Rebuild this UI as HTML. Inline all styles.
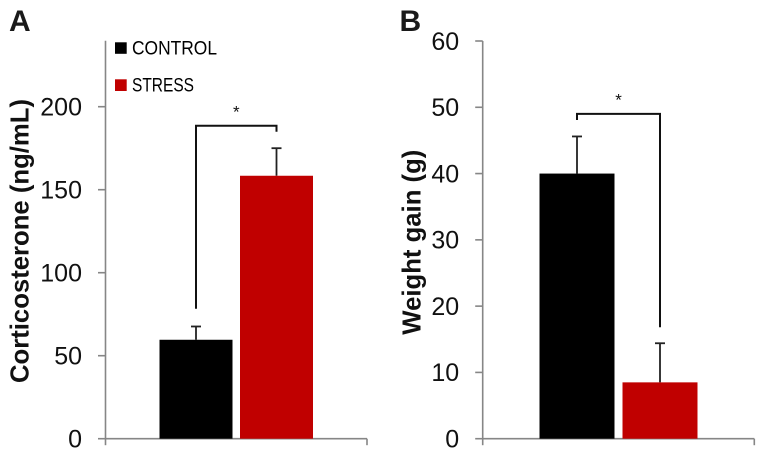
<!DOCTYPE html>
<html lang="en">
<head>
<meta charset="utf-8">
<title>Corticosterone and weight gain</title>
<style>
html,body{margin:0;padding:0;background:#fff;width:764px;height:457px;overflow:hidden}
svg{display:block;font-family:"Liberation Sans",sans-serif}
</style>
</head>
<body>
<svg id="chart" width="764" height="457" viewBox="0 0 764 457" xmlns="http://www.w3.org/2000/svg">
  <text x="9" y="31" font-size="30" font-weight="700" fill="#1a1a1a">A</text>
  <text x="399.5" y="31" font-size="30" font-weight="700" fill="#1a1a1a">B</text>
  <text transform="translate(28.5,383) rotate(-90)" font-size="25.7" font-weight="700" fill="#111">Corticosterone (ng/mL)</text>
  <text transform="translate(420.3,334.7) rotate(-90)" font-size="25.7" font-weight="700" fill="#111">Weight gain (g)</text>
  <rect x="115" y="42.3" width="11.7" height="11.5" fill="#000"/>
  <text x="132" y="54.5" font-size="19.5" fill="#000" textLength="85" lengthAdjust="spacingAndGlyphs">CONTROL</text>
  <rect x="115" y="79.3" width="11.7" height="11.7" fill="#c00000"/>
  <text x="132" y="91.7" font-size="19.5" fill="#000" textLength="62" lengthAdjust="spacingAndGlyphs">STRESS</text>
</svg>
<script>
const categories = ['CONTROL', 'STRESS'];
const colors = ['#000000', '#c00000'];

const corticosteroneMeans = [59.6, 158.4];
const corticosteroneErrors = [8, 16.6];
const corticosteroneTicks = [0, 50, 100, 150, 200];
const corticosteroneBracket = [188.5];

const weightMeans = [40, 8.5];
const weightErrors = [5.6, 5.9];
const weightTicks = [0, 10, 20, 30, 40, 50, 60];
const weightBracket = [49];

const svg = document.getElementById('chart');
const NS = 'http://www.w3.org/2000/svg';

function make(tag, name, attrs, parent) {
  const el = document.createElementNS(NS, tag);
  
  
  for (const k in attrs) el.setAttribute(k, attrs[k]);
  (parent || svg).appendChild(el);
  return el;
}

function drawPanel(p) {
  const y = v => p.y0 - (v - 0) * (p.y0 - p.yRef) / p.vRef;
  const mid = (p.left + p.right) / 2;
  const x = i => mid + (i === 0 ? -1 : 1) * (p.gap + p.barW) / 2;
  const axisColor = '#868686';
  const axisWidth = 1.6;

  const g = make('g', p.id + '-plot', {});

  make('line', p.id + '-y-axis', {x1: p.left, x2: p.left, y1: p.axisTop, y2: p.y0, stroke: axisColor, 'stroke-width': axisWidth}, g);
  make('line', p.id + '-x-axis', {x1: p.left, x2: p.right, y1: p.y0, y2: p.y0, stroke: axisColor, 'stroke-width': axisWidth}, g);
  make('line', p.id + '-x-tick-left', {x1: p.left, x2: p.left, y1: p.y0, y2: p.y0 + 6.5, stroke: axisColor, 'stroke-width': axisWidth}, g);
  make('line', p.id + '-x-tick-right', {x1: p.right, x2: p.right, y1: p.y0, y2: p.y0 + 6.5, stroke: axisColor, 'stroke-width': axisWidth}, g);

  p.ticks.forEach(t => {
    make('line', p.id + '-y-tick-' + t, {x1: p.left - 7.5, x2: p.left, y1: y(t), y2: y(t), stroke: axisColor, 'stroke-width': axisWidth}, g);
    const label = make('text', p.id + '-y-tick-label-' + t, {x: p.left - p.labelGap, y: y(t) + 8.8, 'text-anchor': 'end', 'font-size': 25, fill: '#111'}, g);
    label.textContent = t;
  });

  categories.forEach((c, i) => {
    const key = c.toLowerCase();
    const cx = x(i);
    const top = p.means[i] + p.errors[i];
    make('line', p.id + '-error-stem-' + key, {x1: cx, x2: cx, y1: y(top), y2: y(p.means[i]), stroke: '#222', 'stroke-width': 1.8}, g);
    make('line', p.id + '-error-cap-' + key, {x1: cx - 5, x2: cx + 5, y1: y(top), y2: y(top), stroke: '#222', 'stroke-width': 1.8}, g);
    make('rect', p.id + '-bar-' + key, {x: cx - p.barW / 2, y: y(p.means[i]), width: p.barW, height: p.y0 - y(p.means[i]), fill: colors[i]}, g);
  });

  const by = y(p.bracket[0]);
  const lx = x(0), rx = x(1);
  make('path', p.id + '-significance-bracket', {
    d: 'M' + lx + ' ' + p.bracketLeftEnd + 'V' + by + 'H' + rx + 'V' + p.bracketRightEnd,
    fill: 'none', stroke: '#111', 'stroke-width': 2
  }, g);
  const star = make('text', p.id + '-significance-star', {x: (lx + rx) / 2, y: by - 8.5, 'text-anchor': 'middle', 'font-size': 17, fill: '#111'}, g);
  star.textContent = '*';
}

drawPanel({
  id: 'panel-a', left: 105.5, right: 367, axisTop: 40.7, y0: 438.7, yRef: 106.7, vRef: 200,
  barW: 73, gap: 7.5, labelGap: 23.5,
  means: corticosteroneMeans, errors: corticosteroneErrors, ticks: corticosteroneTicks,
  bracket: corticosteroneBracket, bracketLeftEnd: 308.7, bracketRightEnd: 131.7
});

drawPanel({
  id: 'panel-b', left: 482.7, right: 754.3, axisTop: 41, y0: 438.7, yRef: 41, vRef: 60,
  barW: 75, gap: 8, labelGap: 23.5,
  means: weightMeans, errors: weightErrors, ticks: weightTicks,
  bracket: weightBracket, bracketLeftEnd: 120, bracketRightEnd: 327.3
});
</script>
</body>
</html>
